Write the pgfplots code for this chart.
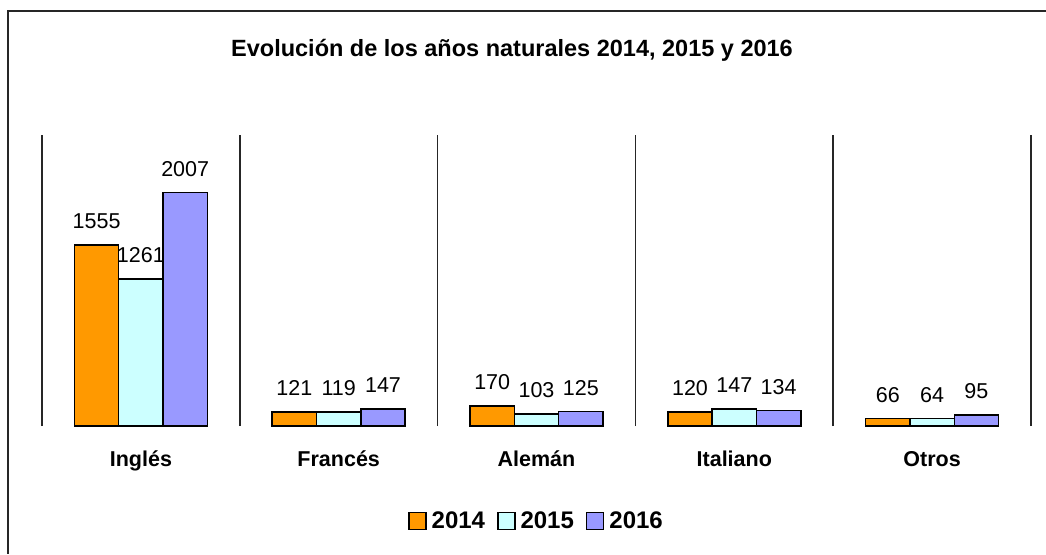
\documentclass[border=0pt]{standalone}
\usepackage{pgfplots}
\pgfplotsset{compat=1.18}
\usepackage{fontspec}
\setmainfont{Liberation Sans}
\definecolor{c14}{HTML}{FF9900}
\definecolor{c15}{HTML}{CCFFFF}
\definecolor{c16}{HTML}{9999FF}
\pgfplotsset{sqleg/.style={legend image code/.code={\draw[##1, line width=1.5pt] (0pt,-8.5pt) rectangle (17pt,8.5pt);}}}
\begin{document}
\begin{tikzpicture}[x=1pt,y=1pt]
\begin{axis}[
  scale only axis, width=989pt, height=291pt,
  ybar=0pt, bar width=0.224,
  xmin=-0.5, xmax=4.5, ymin=0, ymax=2500,
  xtick={0,...,4},
  xticklabels={Inglés,Francés,Alemán,Italiano,Otros},
  minor xtick={-0.5,0.5,...,4.5},
  xminorgrids, minor grid style={black!85, line width=1.6pt},
  ytick=\empty,
  axis line style={draw=none},
  major tick length=0pt, minor tick length=0pt,
  typeset ticklabels with strut,
  xticklabel style={font=\fontsize{21.5}{24}\selectfont\bfseries, yshift=-20pt},
  nodes near coords,
  nodes near coords style={font=\fontsize{21.5}{24}\selectfont, yshift=12pt, black,
    /pgf/number format/.cd, 1000 sep={}, assume math mode=true},
  every axis plot/.append style={draw=black, line width=1.5pt},
  every axis plot post/.append style={sqleg},
  legend style={at={(0.5,-0.326)}, anchor=center, draw=none, fill=none,
    legend columns=3, font=\fontsize{24}{28}\selectfont\bfseries,
    /tikz/every odd column/.append style={column sep=3pt},
    /tikz/every even column/.append style={column sep=10pt}},
]
\addplot[fill=c14] coordinates {(0,1555) (1,121) (2,170) (3,120) (4,66)};
\addplot[fill=c15] coordinates {(0,1261) (1,119) (2,103) (3,147) (4,64)};
\addplot[fill=c16] coordinates {(0,2007) (1,147) (2,125) (3,134) (4,95)};
\legend{2014,2015,2016}
\end{axis}
\node[font=\fontsize{23.5}{28}\selectfont\bfseries] at (470,376) {Evolución de los años naturales 2014, 2015 y 2016};
\draw[black!85, line width=1.5pt] (1004,415) -- (-34,415) -- (-34,-128);
\pgfresetboundingbox
\useasboundingbox (-42,-128) rectangle (1004,426);
\end{tikzpicture}
\end{document}
